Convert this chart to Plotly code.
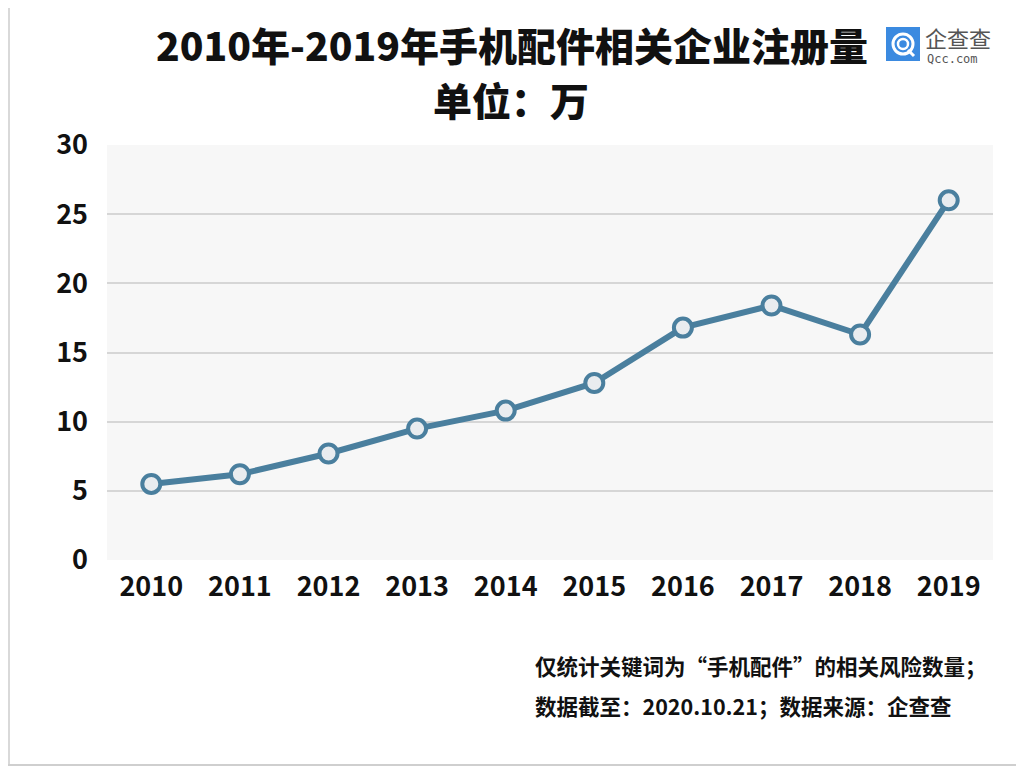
import plotly.graph_objects as go

years = ["2010", "2011", "2012", "2013", "2014", "2015", "2016", "2017", "2018", "2019"]
values = [5.5, 6.2, 7.7, 9.5, 10.8, 12.8, 16.8, 18.4, 16.3, 26.0]
y_ticks = [0, 5, 10, 15, 20, 25, 30]

title_line1 = "2010年-2019年手机配件相关企业注册量"
title_line2 = "单位：万"
note1 = "仅统计关键词为“手机配件”的相关风险数量；"
note2 = "数据截至：2020.10.21；数据来源：企查查"

OFF = 8  # page offset of the figure inside the browser
W, H = 1024 - OFF, 768 - OFF
L, R, T, B = 107 - OFF, 31, 145 - OFF, 208
PW, PH = W - L - R, H - T - B

def px(x):
    return (x - OFF - L) / PW

def py(y):
    return (H - B - (y - OFF)) / PH

FONT = "Noto Sans CJK SC"
LINE = "#4a7f9e"

fig = go.Figure()
fig.add_trace(go.Scatter(
    x=years, y=values, mode="lines+markers",
    line=dict(color=LINE, width=6),
    marker=dict(size=18, color="#e9ecef", line=dict(color=LINE, width=4)),
    hoverinfo="x+y", showlegend=False,
))

fig.update_layout(
    width=W, height=H,
    margin=dict(l=L, r=R, t=T, b=B),
    paper_bgcolor="white",
    plot_bgcolor="#f7f7f7",
    font=dict(family=FONT, color="#111"),
    xaxis=dict(type="category", range=[-0.5, 9.5], showgrid=False, zeroline=False,
               showline=False, ticks="", ticklabelstandoff=8,
               tickfont=dict(size=27, family=FONT, weight="bold", color="#111")),
    yaxis=dict(range=[0, 30], tickvals=y_ticks, showgrid=True, gridcolor="#d6d6d6", gridwidth=2,
               zeroline=False, showline=False, ticks="", ticklabelstandoff=18,
               tickfont=dict(size=27, family=FONT, weight="bold", color="#111")),
)

annotations = [
    dict(x=px(512), y=py(44), text=title_line1, font=dict(size=39, family=FONT, weight=900, color="#111")),
    dict(x=px(511), y=py(99), text=title_line2, font=dict(size=39, family=FONT, weight=900, color="#111")),
    dict(x=px(533), y=py(665), text=note1, xanchor="left", font=dict(size=21.5, family=FONT, weight="bold", color="#111")),
    dict(x=px(533), y=py(705), text=note2, xanchor="left", font=dict(size=21.5, family=FONT, weight="bold", color="#111")),
    dict(x=px(923), y=py(37), text="企查查", xanchor="left", font=dict(size=22, family=FONT, color="#555")),
    dict(x=px(925), y=py(59), text="Qcc.com", xanchor="left", font=dict(size=12, family="DejaVu Sans Mono", color="#555")),
]
for a in annotations:
    a.update(xref="paper", yref="paper", showarrow=False, yanchor="middle")
    a.setdefault("xanchor", "center")
fig.update_layout(annotations=annotations)

shapes = [
    dict(type="line", xref="paper", yref="paper", x0=px(9), x1=px(9), y0=py(8), y1=py(766),
         line=dict(color="#d9d9d9", width=2), layer="below"),
    dict(type="line", xref="paper", yref="paper", x0=px(8), x1=px(1024), y0=py(765), y1=py(765),
         line=dict(color="#cfcfcf", width=2), layer="below"),
    dict(type="rect", xref="paper", yref="paper", x0=px(887), x1=px(919), y0=py(28), y1=py(60),
         line=dict(color="#3b8ae0", width=2), fillcolor="#3b8ae0"),
    dict(type="circle", xref="paper", yref="paper", x0=px(893), x1=px(913), y0=py(34), y1=py(54),
         line=dict(color="white", width=3), fillcolor="rgba(0,0,0,0)"),
    dict(type="circle", xref="paper", yref="paper", x0=px(898), x1=px(908), y0=py(39), y1=py(49),
         line=dict(color="white", width=2.5), fillcolor="rgba(0,0,0,0)"),
    dict(type="line", xref="paper", yref="paper", x0=px(908), x1=px(914), y0=py(50), y1=py(56),
         line=dict(color="white", width=3)),
]
fig.update_layout(shapes=shapes)

fig.write_html("out.html")
